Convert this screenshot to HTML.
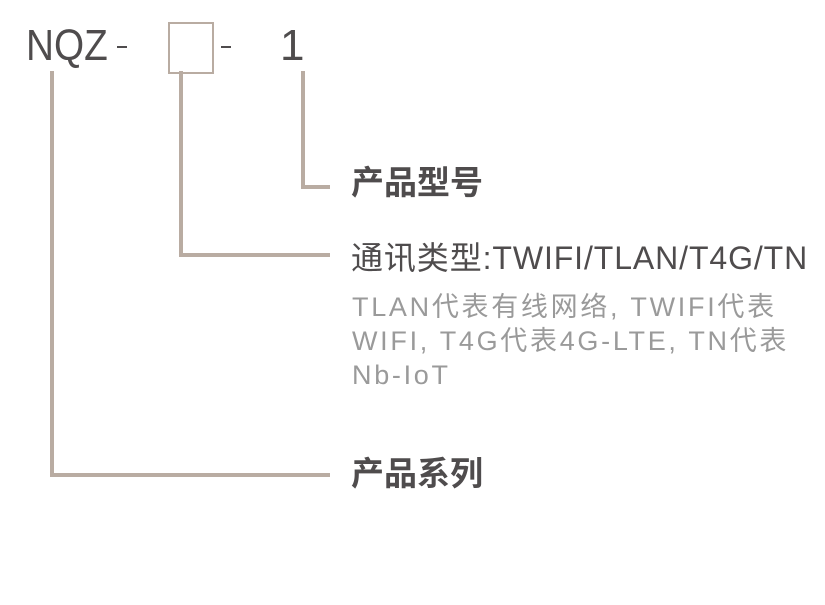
<!DOCTYPE html>
<html><head><meta charset="utf-8"><style>
body{margin:0;width:825px;height:605px;background:#fff;position:relative;overflow:hidden;font-family:"Liberation Sans","Noto Sans CJK SC",sans-serif}
.a{position:absolute;white-space:nowrap;line-height:1}
.l{position:absolute;background:#b9aca2}
</style></head><body>
<div class="a" style="left:26px;top:24px;font-size:44px;color:#4f4c4d;transform:scaleX(0.88);transform-origin:left top">NQZ</div>
<div class="l" style="left:117px;top:46px;width:10px;height:2px;background:#4f4c4d"></div>
<div style="position:absolute;left:168px;top:22px;width:42px;height:48px;border:2px solid #b9aca2"></div>
<div class="l" style="left:221px;top:46px;width:10px;height:2px;background:#4f4c4d"></div>
<div class="a" style="left:280px;top:24px;font-size:44px;color:#4f4c4d">1</div>
<div class="l" style="left:50px;top:71px;width:4px;height:406px"></div>
<div class="l" style="left:50px;top:473px;width:280px;height:4px"></div>
<div class="l" style="left:179px;top:71px;width:4px;height:186px"></div>
<div class="l" style="left:179px;top:253px;width:151px;height:4px"></div>
<div class="l" style="left:301px;top:71px;width:4px;height:118px"></div>
<div class="l" style="left:301px;top:185px;width:29px;height:4px"></div>
<div class="a" style="left:351px;top:166px;font-size:33px;font-weight:bold;color:#4f4c4d">产品型号</div>
<div class="a" style="left:351px;top:242px;font-size:32px;color:#4f4c4d;letter-spacing:0.9px">通讯类型:TWIFI/TLAN/T4G/TN</div>
<div class="a" style="left:352px;top:290px;font-size:27px;color:#9a9a9a;letter-spacing:2.7px;line-height:34px">TLAN代表有线网络, TWIFI代表<br>WIFI, T4G代表4G-LTE, TN代表<br>Nb-IoT</div>
<div class="a" style="left:351px;top:457px;font-size:33px;font-weight:bold;color:#4f4c4d">产品系列</div>
</body></html>
